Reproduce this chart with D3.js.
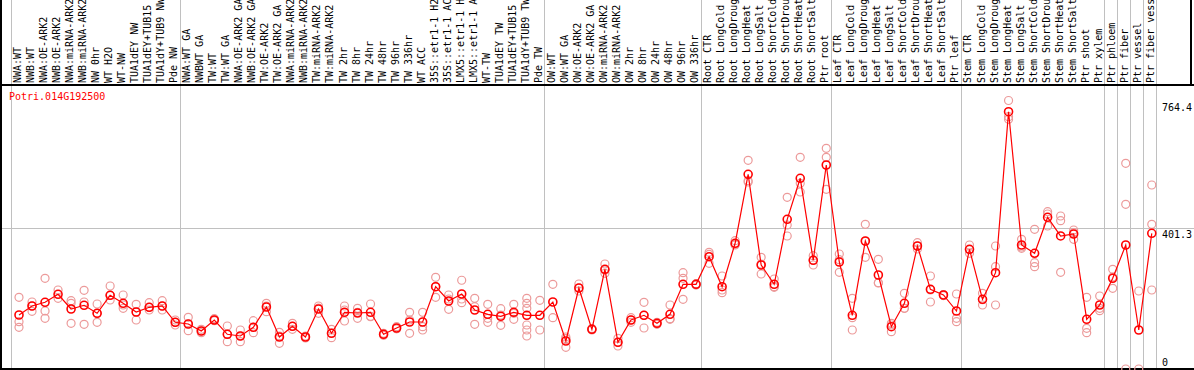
<!DOCTYPE html>
<html lang="en">
  <head>
    <meta charset="UTF-8" />
    <title>Potri.014G192500</title>
    <script src="https://d3js.org/d3.v7.min.js"></script>
    <style>
      body { margin: 0; padding: 0; background: #fff; }
      svg { display: block; background: #fff; }
      text { font-family: "DejaVu Sans Mono", monospace; font-size: 10px; }
      .grid { stroke: #c0c0c0; stroke-width: 1; shape-rendering: crispEdges; }
      .frame { stroke: #000; stroke-width: 1.5; shape-rendering: crispEdges; }
      .rep { fill: none; stroke: #ec9a9a; stroke-width: 1.2; }
      .mean { fill: none; stroke: #ff0000; stroke-width: 1.6; }
    </style>
  </head>
  <body>
    <script>
      // Sample names, left to right
      const samples = [
        "NWA:WT", "NWB:WT", "NWA:OE-ARK2", "NWB:OE-ARK2", "NWA:miRNA-ARK2", "NWB:miRNA-ARK2",
        "NW 0hr", "WT H2O", "WT-NW", "TUA1dEY NW", "TUA1dEY+TUB15 NW", "TUA1dY+TUB9 NW", "Pde NW",
        "NWA:WT GA", "NWBWT GA", "TW:WT", "TW:WT GA", "NWA:OE-ARK2 GA", "NWB:OE-ARK2 GA",
        "TW:OE-ARK2", "TW:OE-ARK2 GA", "NWA:miRNA-ARK2 GA", "NWB:miRNA-ARK2 GA", "TW:miRNA-ARK2",
        "TW:miRNA-ARK2 GA", "TW 2hr", "TW 8hr", "TW 24hr", "TW 48hr", "TW 96hr", "TW 336hr", "WT ACC",
        "35S::etr1-1 H2O", "35S::etr1-1 ACC", "LMX5::etr1-1 H2O", "LMX5::etr1-1 ACC", "WT-TW",
        "TUA1dEY TW", "TUA1dEY+TUB15 TW", "TUA1dY+TUB9 TW", "Pde TW",
        "OW:WT", "OW:WT GA", "OW:OE-ARK2", "OW:OE-ARK2 GA", "OW:miRNA-ARK2", "OW:miRNA-ARK2 GA",
        "OW 2hr", "OW 8hr", "OW 24hr", "OW 48hr", "OW 96hr", "OW 336hr",
        "Root CTR", "Root LongCold", "Root LongDrought", "Root LongHeat", "Root LongSalt",
        "Root ShortCold", "Root ShortDrought", "Root ShortHeat", "Root ShortSalt", "Ptr root",
        "Leaf CTR", "Leaf LongCold", "Leaf LongDrought", "Leaf LongHeat", "Leaf LongSalt",
        "Leaf ShortCold", "Leaf ShortDrought", "Leaf ShortHeat", "Leaf ShortSalt", "Ptr leaf",
        "Stem CTR", "Stem LongCold", "Stem LongDrought", "Stem LongHeat", "Stem LongSalt",
        "Stem ShortCold", "Stem ShortDrought", "Stem ShortHeat", "Stem ShortSalt", "Ptr shoot", "Ptr xylem",
        "Ptr phloem", "Ptr fiber", "Ptr vessel", "Ptr fiber vessel"
      ];

      // Sample index where each group starts (plus the end)
      const groupBreaks = [0, 13, 41, 53, 63, 73, 84, 85, 86, 87, 88];

      // Mean expression per sample
      const means = [
        153.7, 179.4, 189.9, 212.7, 170.8, 181.4, 158.6, 209.8, 187.0, 162.3, 175.7, 179.4, 133.0,
        128.1, 108.2, 139.5, 98.8, 94.0, 118.7, 176.5, 91.1, 121.6, 91.1, 170.8, 101.6, 161.4,
        159.4, 161.4, 98.8, 116.7, 133.8, 133.8, 234.3, 193.6, 213.5, 168.0, 155.7, 150.0, 161.4,
        152.9, 152.9,
        190.7, 79.7, 230.6, 113.0, 283.8, 76.0, 139.5, 152.9, 130.1, 155.7, 241.1, 241.1,
        319.7, 234.3, 357.9, 554.3, 296.1, 241.1, 426.2, 542.9, 309.5, 580.8,
        304.6, 152.9, 364.4, 267.6, 120.4, 187.0, 350.2, 226.9, 210.7, 165.1,
        340.8, 198.4, 274.2, 732.5, 353.0, 329.4, 431.9, 378.7, 384.3, 141.5, 182.2,
        258.2, 353.0, 111.0, 386.3
      ];

      // Individual replicate values per sample
      const replicates = [
        [204.1, 134.7, 118.7], [190.7, 164.3, 179.4], [258.2, 165.1, 144.3], [224.9, 201.3],
        [194.4, 187.0, 130.1], [224.1, 190.7, 127.3], [185.1, 158.6, 133.0], [236.3, 196.4, 209.8],
        [210.7, 172.8, 182.2], [184.2, 139.5, 162.3], [188.8, 168.0, 175.7], [194.4, 168.0, 179.4],
        [139.5, 125.3, 133.0],
        [147.2, 109.0, 128.1], [113.0, 103.3, 108.2], [143.2, 137.5, 139.5], [122.4, 77.7, 98.8],
        [111.0, 77.7, 94.0], [137.5, 103.3, 118.7], [187.0, 179.4, 163.1], [104.5, 73.2, 94.0],
        [130.1, 121.6, 113.0], [91.1, 94.0, 88.3], [179.4, 158.6, 173.7], [113.0, 89.1, 102.5],
        [179.4, 136.7, 168.0], [172.8, 144.3, 161.4], [185.1, 148.9, 150.0], [101.6, 95.9, 98.8],
        [120.4, 114.7, 114.7], [161.4, 101.6, 139.5], [161.4, 111.0, 120.4], [261.1, 204.1, 234.3],
        [210.7, 169.9, 199.3], [252.6, 188.8, 199.3], [201.3, 127.3, 177.4], [184.2, 133.0, 144.3],
        [171.7, 124.4, 153.7], [184.2, 141.5, 158.6], [201.3, 187.0, 172.8, 125.3, 111.0, 94.0],
        [195.5, 111.0],
        [241.1, 146.1], [61.8, 91.1, 86.3], [242.0, 230.6, 222.1], [115.0, 113.0, 111.0],
        [298.9, 272.5, 281.8], [87.4, 65.5, 76.0], [146.1, 133.0, 139.5], [189.9, 116.7, 152.9],
        [133.0, 127.3, 130.1], [182.2, 141.5, 143.2], [274.2, 258.2, 198.4], [241.1, 243.0, 239.0],
        [326.6, 300.9, 332.2], [264.8, 217.2, 224.9], [365.3, 353.0, 355.0], [594.2, 536.1, 532.4],
        [318.0, 270.5, 298.9], [256.2, 232.6, 234.3], [488.8, 410.0, 378.7], [602.7, 503.9, 528.7],
        [322.6, 296.1, 310.3], [628.3, 602.7, 511.6],
        [327.4, 275.3, 311.2], [201.3, 111.0, 146.1], [412.0, 318.0, 363.5], [312.3, 245.7, 244.8],
        [130.1, 106.2, 125.3], [215.5, 172.8, 172.8], [359.6, 350.2, 341.6], [264.8, 190.7, 224.9],
        [210.7, 212.0, 209.0], [213.5, 144.3, 134.7],
        [353.0, 329.4, 339.6], [215.5, 182.2, 197.3], [350.2, 291.2, 182.2], [764.4, 718.3, 710.9],
        [369.3, 343.6, 347.3], [397.7, 302.6, 291.2], [447.8, 407.1, 441.3], [435.6, 422.2, 275.3],
        [395.7, 369.3, 388.0], [204.1, 115.9, 103.3], [207.8, 166.0, 172.8],
        [283.8, 229.8, 261.9], [585.6, 468.9, 0], [222.1, 0], [523.8, 412.0, 224.9]
      ];

      // Right-hand axis labels
      const yTicks = [0, 401.3, 764.4];
      const geneName = "Potri.014G192500";

      const width = 1194, height = 370;
      const headerBottom = 85, plotBottom = 369;

      const svg = d3.select("body").append("svg")
        .attr("width", width)
        .attr("height", height);

      const x = d3.scaleBand()
        .domain(d3.range(samples.length))
        .range([10.5, 1156.3])
        .padding(0);
      const px = i => x(i) + 8.5;

      const y = d3.scaleLinear()
        .domain([0, 764.4])
        .range([plotBottom, 100.5]);

      // Group separators
      svg.append("g").selectAll("line")
        .data(groupBreaks)
        .join("line")
        .attr("class", "grid")
        .attr("x1", d => Math.round(d === samples.length ? x(d - 1) + x.bandwidth() : x(d)) + 0.5)
        .attr("x2", d => Math.round(d === samples.length ? x(d - 1) + x.bandwidth() : x(d)) + 0.5)
        .attr("y1", 0)
        .attr("y2", height);

      // Horizontal grid at the middle tick
      svg.append("line")
        .attr("class", "grid")
        .attr("x1", 0).attr("x2", width)
        .attr("y1", Math.round(y(401.3)) + 0.5)
        .attr("y2", Math.round(y(401.3)) + 0.5);

      // Frame
      svg.append("line").attr("class", "frame")
        .attr("x1", 0).attr("x2", width).attr("y1", headerBottom).attr("y2", headerBottom);
      svg.append("line").attr("class", "frame")
        .attr("x1", 0).attr("x2", width).attr("y1", plotBottom).attr("y2", plotBottom);
      svg.append("line").attr("class", "frame")
        .attr("x1", 1).attr("x2", 1).attr("y1", 0).attr("y2", height);
      svg.append("line").attr("class", "frame")
        .attr("x1", 1191).attr("x2", 1191).attr("y1", 0).attr("y2", headerBottom);

      // Rotated sample labels
      svg.append("g").selectAll("text")
        .data(samples)
        .join("text")
        .attr("transform", (d, i) => `translate(${x(i) + 10.5},${headerBottom - 2}) rotate(-90)`)
        .attr("fill", "#000")
        .text(d => d);

      // Gene name
      svg.append("text")
        .attr("x", 9).attr("y", 100)
        .attr("fill", "#ff0000")
        .text(geneName);

      // Axis labels on the right
      svg.append("g").selectAll("text")
        .data(yTicks)
        .join("text")
        .attr("x", 1162)
        .attr("y", d => Math.min(y(d) + 10, 366))
        .attr("fill", "#000")
        .text(d => d);

      // Replicates
      const repData = replicates.flatMap((vals, i) => vals.map(v => ({ i, v })));
      svg.append("g").selectAll("circle")
        .data(repData)
        .join("circle")
        .attr("class", "rep")
        .attr("cx", d => px(d.i))
        .attr("cy", d => y(d.v))
        .attr("r", 4);

      // Mean line
      svg.append("path")
        .datum(means)
        .attr("fill", "none")
        .attr("stroke", "#ff0000")
        .attr("stroke-width", 1.2)
        .attr("d", d3.line().x((d, i) => px(i)).y(d => y(d)));

      // Mean markers
      svg.append("g").selectAll("circle")
        .data(means)
        .join("circle")
        .attr("class", "mean")
        .attr("cx", (d, i) => px(i))
        .attr("cy", d => y(d))
        .attr("r", 4);
    </script>
  </body>
</html>
